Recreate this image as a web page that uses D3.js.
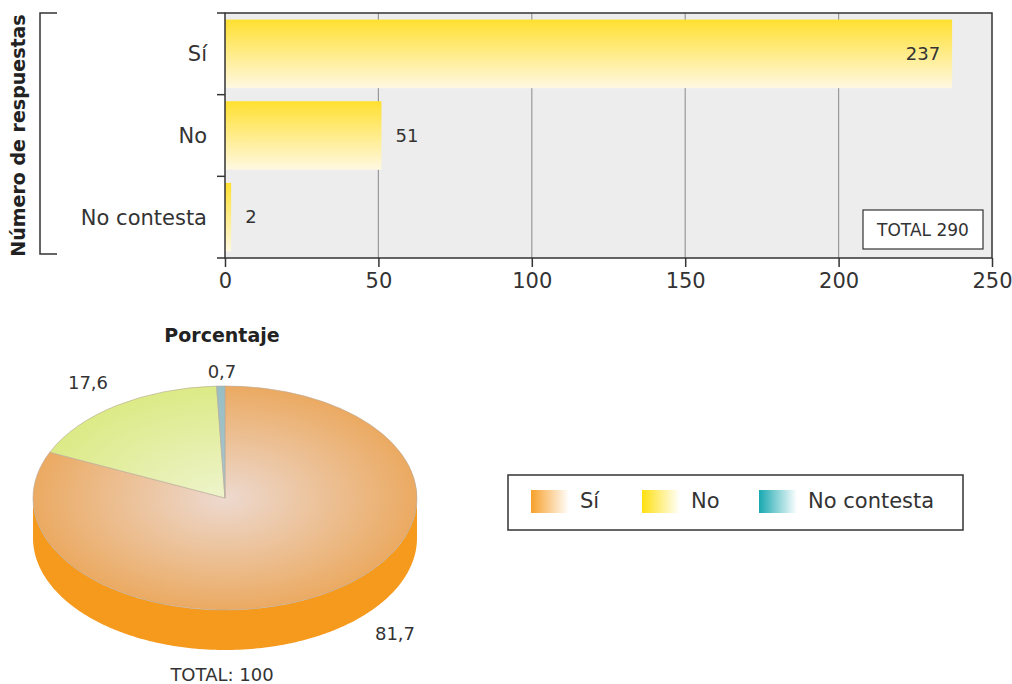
<!DOCTYPE html>
<html><head><meta charset="utf-8">
<script src="https://cdn.jsdelivr.net/npm/d3@7"></script>
<style>
body{margin:0;background:#fff;}
svg{display:block;font-family:"DejaVu Sans",sans-serif;}
</style></head>
<body>
<svg id="chart" width="1012" height="684"></svg>
<script>
// ---- data ----
const categories = ["Sí", "No", "No contesta"];
const counts = [237, 51, 2];
const xTicks = [0, 50, 100, 150, 200, 250];
const percentages = [81.7, 17.6, 0.7];
const pctLabels = ["81,7", "17,6", "0,7"];
const totalCountLabel = "TOTAL 290";
const totalPctLabel = "TOTAL: 100";
const yTitle = "Número de respuestas";
const pieTitle = "Porcentaje";

const svg = d3.select("#chart");
const defs = svg.append("defs");
const txt = "#333";

// gradients
const barGrad = defs.append("linearGradient").attr("id","barGrad").attr("x1",0).attr("y1",0).attr("x2",0).attr("y2",1);
barGrad.append("stop").attr("offset","0%").attr("stop-color","#FFE030");
barGrad.append("stop").attr("offset","100%").attr("stop-color","#FFF8E2");

function hGrad(id, c){
  const g = defs.append("linearGradient").attr("id",id).attr("x1",0).attr("y1",0).attr("x2",1).attr("y2",0);
  g.append("stop").attr("offset","0%").attr("stop-color",c);
  g.append("stop").attr("offset","100%").attr("stop-color","#fff");
}
hGrad("legSi","#F7A02A");
hGrad("legNo","#FFE010");
hGrad("legNc","#18A8B0");

function rGrad(id, c0, c1){
  const g = defs.append("radialGradient").attr("id",id)
    .attr("gradientUnits","userSpaceOnUse").attr("cx",0).attr("cy",0).attr("r",192);
  g.append("stop").attr("offset","0%").attr("stop-color",c0);
  g.append("stop").attr("offset","100%").attr("stop-color",c1);
}
rGrad("pieSi","#EDD9CF","#EBAA62");
rGrad("pieNo","#EEF4CC","#DCEA86");
rGrad("pieNc","#A8C6CC","#98BEC4");

// ---- bar chart ----
const bx0 = 225, bx1 = 992, by0 = 13, by1 = 258;
const x = d3.scaleLinear().domain([0,250]).range([bx0,bx1]);
const y = d3.scaleBand().domain(categories).range([by0,by1]).paddingInner(0.16).paddingOuter(0.08);
const yb = d3.scaleBand().domain(categories).range([by0,by1]);

svg.append("rect").attr("x",bx0).attr("y",by0).attr("width",bx1-bx0).attr("height",by1-by0).attr("fill","#EDEDED");

svg.append("g").selectAll("line").data(xTicks.slice(1,-1)).join("line")
  .attr("x1",d=>x(d)).attr("x2",d=>x(d)).attr("y1",by0).attr("y2",by1)
  .attr("stroke","#999").attr("stroke-width",1.2);

svg.append("g").selectAll("rect").data(counts).join("rect")
  .attr("x",x(0)).attr("y",(d,i)=>y(categories[i]))
  .attr("width",d=>x(d)-x(0)).attr("height",y.bandwidth())
  .attr("fill","url(#barGrad)");

// border
svg.append("rect").attr("x",bx0).attr("y",by0).attr("width",bx1-bx0).attr("height",by1-by0)
  .attr("fill","none").attr("stroke","#333").attr("stroke-width",1.5);

// x axis
const xAxis = svg.append("g").attr("transform",`translate(0,${by1})`)
  .call(d3.axisBottom(x).tickValues(xTicks).tickSize(9).tickPadding(6));
xAxis.select(".domain").remove();
xAxis.selectAll("line").attr("stroke","#333").attr("stroke-width",1.5);
xAxis.selectAll("text").attr("font-size",21).attr("fill",txt).attr("font-family","DejaVu Sans");

// y ticks at band boundaries
const bounds = categories.map(c=>yb(c)).concat([by1]);
svg.append("g").selectAll("line").data(bounds).join("line")
  .attr("x1",bx0-8).attr("x2",bx0).attr("y1",d=>d).attr("y2",d=>d)
  .attr("stroke","#333").attr("stroke-width",1.5);

svg.append("g").selectAll("text").data(categories).join("text")
  .attr("x",207).attr("y",d=>yb(d)+yb.bandwidth()/2).attr("dy","0.35em")
  .attr("text-anchor","end").attr("font-size",21).attr("fill",txt).text(d=>d);

// value labels
svg.append("g").selectAll("text").data(counts).join("text")
  .attr("x",d=> d>150 ? x(d)-12 : x(d)+14)
  .attr("y",(d,i)=>y(categories[i])+y.bandwidth()/2).attr("dy","0.35em")
  .attr("text-anchor",d=> d>150 ? "end":"start")
  .attr("font-size",18).attr("fill",txt).text(d=>d);

// total box
svg.append("rect").attr("x",863).attr("y",210).attr("width",120).attr("height",39)
  .attr("fill","#fff").attr("stroke","#333").attr("stroke-width",1.2);
svg.append("text").attr("x",923).attr("y",230).attr("dy","0.35em").attr("text-anchor","middle")
  .attr("font-size",17).attr("fill",txt).text(totalCountLabel);

// y title + bracket
svg.append("text").attr("transform",`translate(25,${(by0+by1)/2}) rotate(-90)`)
  .attr("text-anchor","middle").attr("font-size",19).attr("font-weight","bold").attr("fill","#222").text(yTitle);
svg.append("path").attr("d",`M57,${by0}H40V${by1-4}H57`).attr("fill","none").attr("stroke","#333").attr("stroke-width",1.5);

// ---- pie ----
const cx = 225, cy = 498, rx = 192, ry = 112, depth = 40;
const pie = d3.pie().sort(null).value(d=>d);
const arcs = pie(percentages);
const topFills = ["url(#pieSi)","url(#pieNo)","url(#pieNc)"];
const sideFills = ["#F69A1E","#E8D020","#1A9AA2"];
const arc = d3.arc().innerRadius(0).outerRadius(rx);
const sy = ry/rx;

const gp = svg.append("g").attr("transform",`translate(${cx},${cy})`);
// sides (front half only)
arcs.forEach((a,i)=>{
  const s = Math.max(a.startAngle, Math.PI/2), e = Math.min(a.endAngle, 3*Math.PI/2);
  if (e <= s) return;
  const angs = d3.range(s, e, 0.01).concat([e]);
  const topPts = angs.map(t=>[rx*Math.sin(t), -ry*Math.cos(t)]);
  const botPts = angs.slice().reverse().map(t=>[rx*Math.sin(t), -ry*Math.cos(t)+depth]);
  gp.append("path").attr("d", d3.line()(topPts.concat(botPts))+"Z").attr("fill",sideFills[i]);
});
// top
const gt = gp.append("g").attr("transform",`scale(1,${sy})`);
gt.selectAll("path").data(arcs).join("path")
  .attr("d",arc).attr("fill",(d,i)=>topFills[i])
  .attr("stroke","#B8A898").attr("stroke-width",0.6).attr("vector-effect","non-scaling-stroke");

svg.append("text").attr("x",222).attr("y",342).attr("text-anchor","middle")
  .attr("font-size",19).attr("font-weight","bold").attr("fill","#222").text(pieTitle);

const labPos = [[395,634],[88,383],[222,372]];
svg.append("g").selectAll("text").data(pctLabels).join("text")
  .attr("x",(d,i)=>labPos[i][0]).attr("y",(d,i)=>labPos[i][1]).attr("dy","0.35em")
  .attr("text-anchor","middle").attr("font-size",18).attr("fill",txt).text(d=>d);
svg.append("text").attr("x",222).attr("y",675).attr("dy","0.35em").attr("text-anchor","middle")
  .attr("font-size",18).attr("fill",txt).text(totalPctLabel);

// legend
svg.append("rect").attr("x",508).attr("y",475).attr("width",455).attr("height",55)
  .attr("fill","#fff").attr("stroke","#333").attr("stroke-width",1.5);
const legX = [531, 642, 759];
const legFills = ["url(#legSi)","url(#legNo)","url(#legNc)"];
const lg = svg.append("g");
categories.forEach((c,i)=>{
  lg.append("rect").attr("x",legX[i]).attr("y",490).attr("width",38).attr("height",23).attr("fill",legFills[i]);
  lg.append("text").attr("x",legX[i]+49).attr("y",501).attr("dy","0.35em")
    .attr("font-size",21).attr("fill",txt).text(c);
});
</script>
</body></html>
